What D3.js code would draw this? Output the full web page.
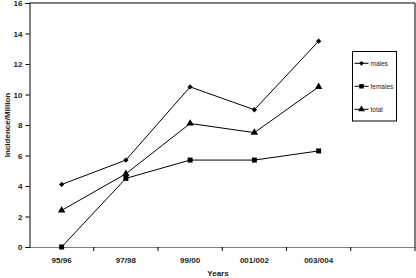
<!DOCTYPE html>
<html>
<head>
<meta charset="utf-8">
<script src="https://cdn.jsdelivr.net/npm/d3@7"></script>
<style>
  body { margin: 0; background: #fff; }
  svg { display: block; font-family: "Liberation Sans", Arial, sans-serif; }
</style>
</head>
<body>
<div id="chart"></div>
<script>
// DATA
const years = ["95/96", "97/98", "99/00", "001/002", "003/004", ""];
const males = [4.1, 5.7, 10.5, 9.0, 13.5];
const females = [0, 4.5, 5.7, 5.7, 6.3];
const total = [2.4, 4.8, 8.1, 7.5, 10.5];
const yTicks = [0, 2, 4, 6, 8, 10, 12, 14, 16];
const seriesNames = ["males", "females", "total"];

const w = 416, h = 278;
const margin = { top: 3, right: 1, bottom: 31, left: 29.5 };

const svg = d3.select("#chart").append("svg")
    .attr("width", w)
    .attr("height", h);

// SCALES
const x = d3.scaleBand()
    .domain(years)
    .range([margin.left, w - margin.right])
    .padding(0);

const y = d3.scaleLinear()
    .domain([0, 16])
    .range([h - margin.bottom, margin.top]);

// plot frame (top + right)
svg.append("path")
    .attr("d", "M" + margin.left + "," + y(16) + "H" + (w - margin.right) + "V" + y(0))
    .attr("fill", "none")
    .attr("stroke", "#000")
    .attr("stroke-width", 1);

// AXES
const xAxis = svg.append("g")
    .attr("transform", "translate(0," + y(0) + ")")
    .call(d3.axisBottom(x).tickSize(0).tickFormat(""));
xAxis.select(".domain").attr("stroke", "#808080").attr("stroke-width", 1.2);
// ticks between categories
xAxis.selectAll(".sep")
    .data(years)
    .enter().append("line")
    .attr("class", "sep")
    .attr("x1", (d) => x(d) + x.bandwidth())
    .attr("x2", (d) => x(d) + x.bandwidth())
    .attr("y1", 0).attr("y2", 4)
    .attr("stroke", "#000");
xAxis.selectAll(".lbl")
    .data(years.filter((d) => d !== ""))
    .enter().append("text")
    .attr("class", "lbl")
    .attr("x", (d) => x(d) + x.bandwidth() / 2)
    .attr("y", 16)
    .attr("text-anchor", "middle")
    .style("font-size", "8px")
    .style("font-weight", "bold")
    .attr("fill", "#222")
    .text((d) => d);

const yAxis = svg.append("g")
    .attr("transform", "translate(" + margin.left + ",0)")
    .call(d3.axisLeft(y).tickValues(yTicks).tickSize(4).tickPadding(3));
yAxis.select(".domain").attr("stroke", "#000");
yAxis.selectAll("text")
    .style("font-size", "8px")
    .style("font-weight", "bold")
    .attr("fill", "#222")
    .attr("font-family", "Liberation Sans, Arial, sans-serif");

// AXES LABELS
svg.append("text")
    .text("Years")
    .attr("x", 218).attr("y", 276)
    .attr("text-anchor", "middle")
    .style("font-size", "8px")
    .style("font-weight", "bold")
    .attr("fill", "#222");

svg.append("text")
    .text("Incidence/Million")
    .attr("transform", "translate(10," + ((margin.top + h - margin.bottom) / 2) + ") rotate(-90)")
    .attr("text-anchor", "middle")
    .style("font-size", "8px")
    .style("font-weight", "bold")
    .attr("fill", "#222");

// LINES
const series = [
    { name: "males", values: males, shape: d3.symbolSquare, size: 14, rot: 45 },
    { name: "females", values: females, shape: d3.symbolSquare, size: 25, rot: 0 },
    { name: "total", values: total, shape: d3.symbolTriangle, size: 24, rot: 0 }
];

const line = d3.line()
    .x((d, i) => x(years[i]) + x.bandwidth() / 2)
    .y((d) => y(d));

series.forEach((s) => {
    svg.append("path")
        .attr("d", line(s.values))
        .attr("fill", "none")
        .attr("stroke", "#000")
        .attr("stroke-width", 1);
    svg.selectAll(".m-" + s.name)
        .data(s.values)
        .enter().append("path")
        .attr("class", "m-" + s.name)
        .attr("transform", (d, i) => "translate(" + (x(years[i]) + x.bandwidth() / 2) + "," + y(d) + ") rotate(" + s.rot + ")")
        .attr("d", d3.symbol().type(s.shape).size(s.size))
        .attr("fill", "#000");
});

// LEGEND
const legend = svg.append("g").attr("transform", "translate(352.5,51.5)");
legend.append("rect")
    .attr("width", 44).attr("height", 69.5)
    .attr("fill", "#fff")
    .attr("stroke", "#000");
series.forEach((s, i) => {
    const ly = 11.8 + i * 23;
    legend.append("line")
        .attr("x1", 2).attr("x2", 16)
        .attr("y1", ly).attr("y2", ly)
        .attr("stroke", "#000");
    legend.append("path")
        .attr("transform", "translate(9," + ly + ") rotate(" + s.rot + ")")
        .attr("d", d3.symbol().type(s.shape).size(s.size * 0.8))
        .attr("fill", "#000");
    legend.append("text")
        .attr("x", 18).attr("y", ly + 2.5)
        .style("font-size", "6.5px")
        .attr("fill", "#222")
        .text(s.name);
});
</script>
</body>
</html>
